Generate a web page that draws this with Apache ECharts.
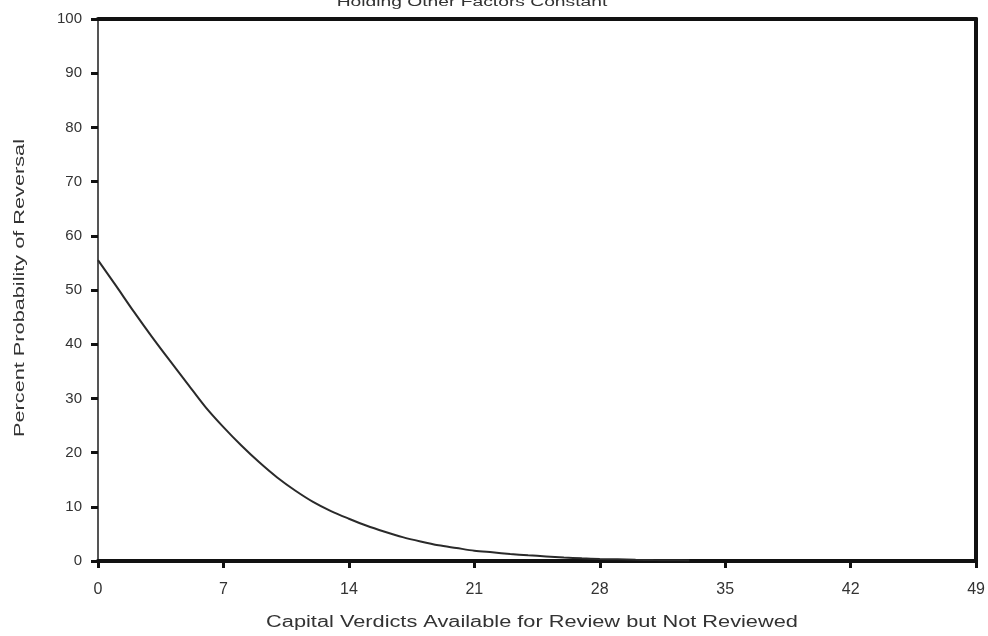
<!DOCTYPE html>
<html>
<head>
<meta charset="utf-8">
<script src="https://cdn.jsdelivr.net/npm/echarts@6/dist/echarts.min.js"></script>
<style>
html,body{margin:0;padding:0;background:#fff;}
#chart{width:988px;height:636px;}
</style>
</head>
<body>
<div id="chart"></div>
<script>
var titleText = 'Holding Other Factors Constant';
var xAxisTitle = 'Capital Verdicts Available for Review but Not Reviewed';
var yAxisTitle = 'Percent Probability of Reversal';

var verdicts = [0,1,2,3,4,5,6,7,8,9,10,11,12,13,14,15,16,17,18,19,20,21,22,23,24,25,26,27,28,29,30,31,32,33];
var probability = [55.5,50.8,46.0,41.4,37.0,32.7,28.4,24.7,21.3,18.2,15.4,13.0,10.9,9.2,7.8,6.5,5.4,4.4,3.6,2.9,2.4,1.9,1.6,1.3,1.05,0.85,0.65,0.5,0.38,0.3,0.22,0.17,0.13,0.1];

var xMin = 0, xMax = 49, xStep = 7;
var yMin = 0, yMax = 100, yStep = 10;

var FONT = "'Liberation Sans', Arial, sans-serif";
var chart = echarts.init(document.getElementById('chart'));

var points = verdicts.map(function (v, i) { return [v, probability[i]]; });

chart.setOption({
  animation: false,
  backgroundColor: '#ffffff',
  grid: { left: 98, right: 11, top: 19, bottom: 75, containLabel: false },
  xAxis: [
    {
      type: 'value', min: xMin, max: xMax, interval: xStep, position: 'bottom',
      axisLine: { show: true, onZero: false, lineStyle: { color: '#111', width: 4 } },
      axisTick: { show: true, length: 7, lineStyle: { color: '#111', width: 3 } },
      axisLabel: { show: true, margin: 21, fontSize: 16, color: '#333', fontFamily: FONT },
      splitLine: { show: false }
    },
    {
      type: 'value', min: xMin, max: xMax, interval: xStep, position: 'top',
      axisLine: { show: true, onZero: false, lineStyle: { color: '#111', width: 4 } },
      axisTick: { show: false }, axisLabel: { show: false }, splitLine: { show: false }
    }
  ],
  yAxis: [
    {
      type: 'value', min: yMin, max: yMax, interval: yStep, position: 'left',
      axisLine: { show: true, onZero: false, lineStyle: { color: '#555', width: 2 } },
      axisTick: { show: true, length: 7, lineStyle: { color: '#111', width: 3 } },
      axisLabel: { show: true, margin: 16, fontSize: 15, color: '#333', fontFamily: FONT },
      splitLine: { show: false }
    },
    {
      type: 'value', min: yMin, max: yMax, interval: yStep, position: 'right',
      axisLine: { show: true, onZero: false, lineStyle: { color: '#111', width: 4 } },
      axisTick: { show: false }, axisLabel: { show: false }, splitLine: { show: false }
    }
  ],
  graphic: [
    {
      type: 'text', x: 472, y: 2, scaleX: 1.48, scaleY: 1,
      style: { text: titleText, x: 0, y: 0, align: 'center', verticalAlign: 'middle', fontSize: 13, fontFamily: FONT, fill: '#333' }
    },
    {
      type: 'text', x: 532, y: 623, scaleX: 1.36, scaleY: 1,
      style: { text: xAxisTitle, x: 0, y: 0, align: 'center', verticalAlign: 'middle', fontSize: 16, fontFamily: FONT, fill: '#333' }
    },
    {
      type: 'text', x: 20, y: 288, rotation: Math.PI / 2, scaleX: 1.55, scaleY: 1,
      style: { text: yAxisTitle, x: 0, y: 0, align: 'center', verticalAlign: 'middle', fontSize: 14, fontFamily: FONT, fill: '#333' }
    }
  ],
  series: [
    {
      type: 'line', xAxisIndex: 0, yAxisIndex: 0,
      data: points, smooth: 0.3, showSymbol: false, symbol: 'none',
      lineStyle: { color: '#2a2a2a', width: 2 },
      z: 3
    }
  ]
});
</script>
</body>
</html>
